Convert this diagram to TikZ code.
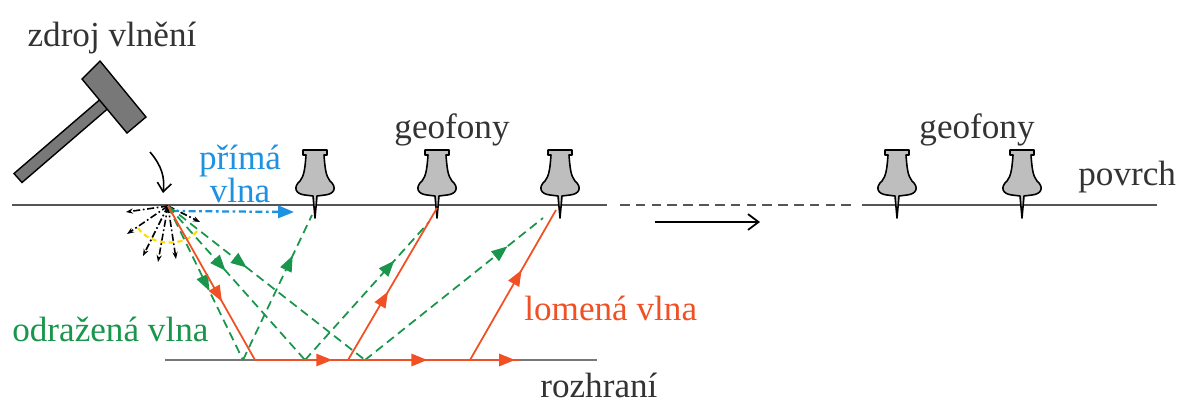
\documentclass[tikz,border=0pt]{standalone}
\usepackage{fontspec}
\setmainfont{Liberation Serif}
\usetikzlibrary{arrows.meta,decorations.markings,calc}

\definecolor{prima}{RGB}{30,145,225}
\definecolor{odraz}{RGB}{25,150,75}
\definecolor{lom}{RGB}{240,80,35}
\definecolor{zem}{RGB}{85,85,85}
\definecolor{kov}{RGB}{120,120,120}
\definecolor{hlava}{RGB}{190,190,190}

\tikzset{
  popis/.style={font=\fontsize{20}{17}\selectfont, inner sep=0pt},
  vrstva/.style={draw=zem, line width=1.6pt},
  odrazena/.style={draw=odraz, dash pattern=on 5pt off 3pt, line width=1pt},
  lomena/.style={draw=lom, line width=1pt},
  sipka/.style={postaction={decorate, decoration={markings,
      mark=at position #1 with {\arrow{Triangle[length=9pt,width=7pt]}}}}},
  geofon/.pic={
    \draw[fill=hlava, line width=0.9pt, line join=round]
      (-12,-55) -- (12,-55) -- (12,-50) -- (9,-50)
      .. controls (10,-36) and (11,-29) .. (15,-24)
      .. controls (22,-18) and (20,-11) .. (10,-10)
      -- (2,-9) -- (0,13) -- (-2,-9) -- (-10,-10)
      .. controls (-20,-11) and (-22,-18) .. (-15,-24)
      .. controls (-11,-29) and (-10,-36) .. (-9,-50)
      -- (-12,-50) -- cycle;
  },
}

\begin{document}
\begin{tikzpicture}[x=0.02cm, y=-0.02cm]
  \useasboundingbox (0,0) rectangle (1189,403);

  % zdroj a body na povrchu a rozhrani
  \coordinate (src) at (168,206);
  \coordinate (g1) at (315,205);
  \coordinate (g2) at (437,205);
  \coordinate (g3) at (560,205);
  \coordinate (g4) at (897,205);
  \coordinate (g5) at (1022,205);
  \coordinate (r1) at (243,360);
  \coordinate (r2) at (305,360);
  \coordinate (r3) at (365,360);
  \coordinate (l0) at (255,360);
  \coordinate (l1) at (348,360);
  \coordinate (l2) at (470,360);
  \coordinate (l3) at (520,360);

  % povrch a rozhrani
  \draw[vrstva] (12,205) -- (607,205);
  \draw[vrstva, dash pattern=on 5.5pt off 3.5pt, line width=1pt] (620,205) -- (852,205);
  \draw[vrstva] (862,205) -- (1157,205);
  \draw[draw=zem!80, line width=1.3pt] (165,360) -- (597,360);
  \draw[-{Straight Barb[length=6pt,width=9pt]}, line width=1pt] (655,222) -- (760,222);

  % kladivo
  \draw[fill=kov, line width=0.8pt] (14,173.5) -- (100,99.5) -- (108,108.5) -- (22,182.5) -- cycle;
  \draw[fill=kov, line width=0.8pt] (100,61) -- (146,117) -- (127,133) -- (82,79) -- cycle;
  \draw[-{Straight Barb[length=5pt,width=8pt]}, line width=0.9pt] (150,152) .. controls (162,166) and (165,178) .. (163,193);

  % geofony
  \foreach \g in {g1,g2,g3,g4,g5}
    \pic at (\g) {geofon};

  % vlnoplocha u zdroje
  \draw[yellow!80!orange, dash pattern=on 3pt off 2pt, line width=1.2pt]
    (138,228) .. controls (150,246) and (185,248) .. (198,230);
  \foreach \e in {(126,212),(127,234),(143,256),(158,262),(176,259),(200,222)}
    \draw[-{Stealth[length=4pt]}, dash pattern=on 4pt off 1.5pt on 1pt off 1.5pt, line width=0.9pt] (src) -- \e;

  % prima vlna
  \draw[prima, dash pattern=on 4pt off 2pt on 1.5pt off 2pt, line width=1.3pt,
    -{Triangle[length=9pt,width=7pt]}] ($(src)+(4,5)$) -- (294,212);

  % odrazene vlny
  \draw[odrazena, sipka=0.55] (src) -- (r1);
  \draw[odrazena, sipka=0.72] (r1) -- ($(g1)+(-3,10)$);
  \draw[odrazena, sipka=0.42] (src) -- (r2);
  \draw[odrazena, sipka=0.72] (r2) -- ($(g2)+(-8,17)$);
  \draw[odrazena, sipka=0.4] (src) -- (r3);
  \draw[odrazena, sipka=0.8] (r3) -- ($(g3)+(-17,13)$);

  % lomena vlna
  \draw[lomena, sipka=0.62] (src) -- (l0);
  \draw[lomena, sipka=0.83] (l0) -- (l1);
  \draw[lomena, sipka=0.65] (l1) -- (l2);
  \draw[lomena, sipka=0.9] (l2) -- (l3);
  \draw[lomena, sipka=0.45] (l1) -- ($(g2)+(0,3)$);
  \draw[lomena, sipka=0.6] (l2) -- ($(g3)+(-4,5)$);

  % popisky
  \node[popis, text=black!80] (zdroj) at (112,38) {zdroj vlnění};
  \node[popis, text=prima, align=center] (primaL) at (240,174) {přímá\\vlna};
  \node[popis, text=black!80] (geoA) at (452,130) {geofony};
  \node[popis, text=black!80] (geoB) at (977,130) {geofony};
  \node[popis, text=black!80, anchor=west] (povrch) at (1078,177) {povrch};
  \node[popis, text=odraz, anchor=west] (odrazL) at (12,329) {odražená vlna};
  \node[popis, text=lom, anchor=west] (lomL) at (524,308) {lomená vlna};
  \node[popis, text=black!80, anchor=west] (rozhrani) at (540,385) {rozhraní};
\end{tikzpicture}
\end{document}
